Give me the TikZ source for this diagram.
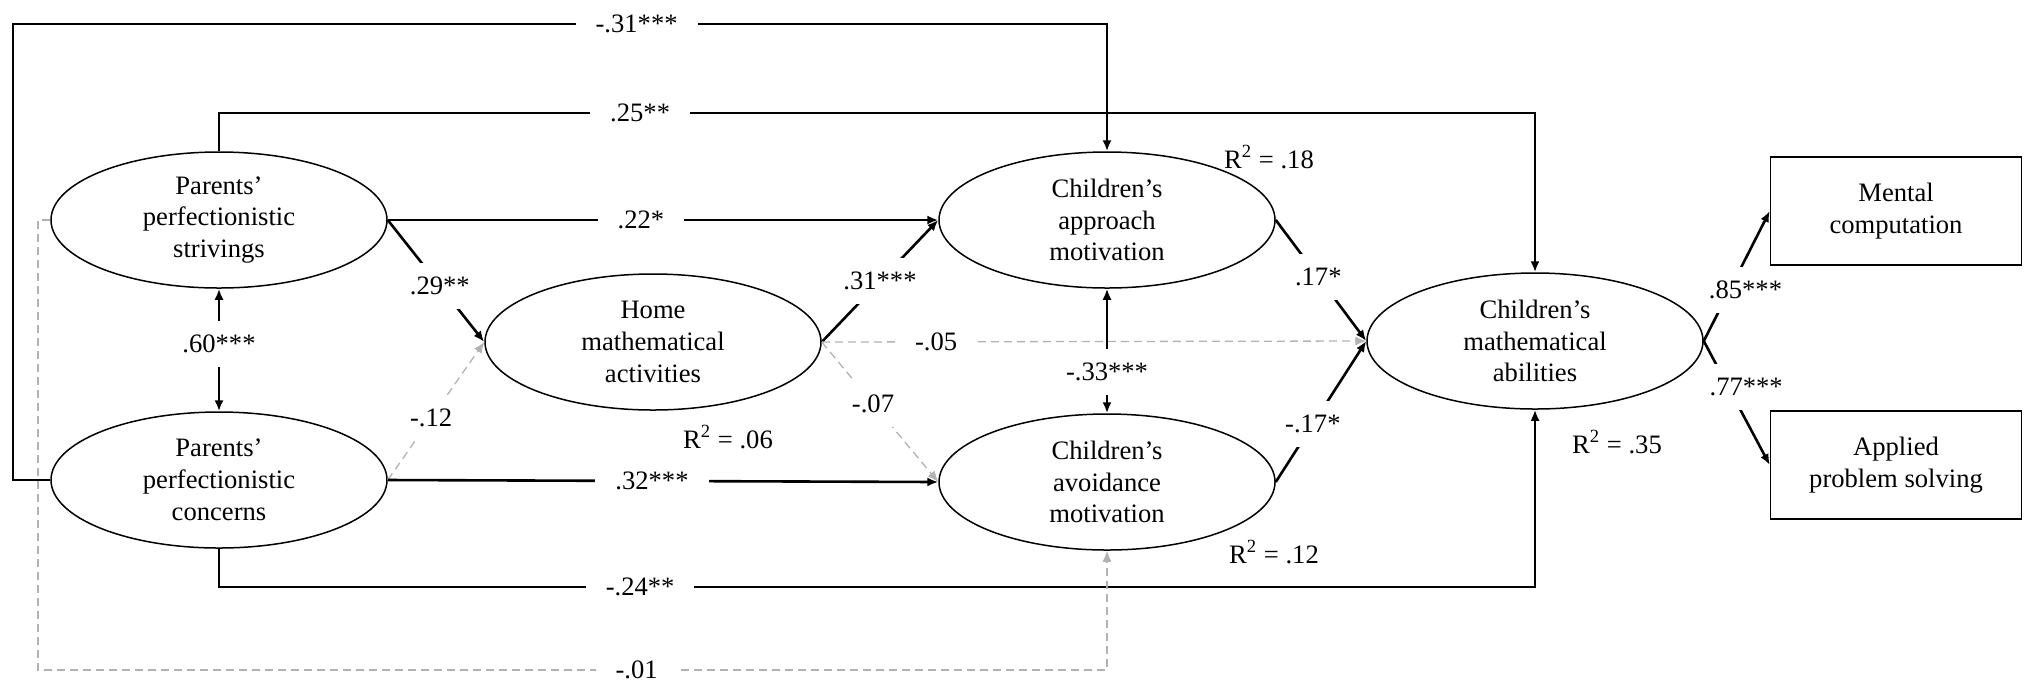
\documentclass[tikz,border=0pt]{standalone}
\usepackage{fontspec}
\setmainfont{Liberation Serif}
\usetikzlibrary{%
  arrows.meta,%
  shapes.geometric%
}
\tikzset{>={Latex[length=5.5pt,width=4.5pt]}}
\tikzset{latent/.style = {draw, ellipse, line width=0.75pt, minimum width=168pt,
	    minimum height=68pt, inner sep=0pt, align=center},%
		observed/.style={draw, rectangle, line width=0.75pt, minimum width=125.5pt,
        minimum height=54pt, align=center},%
        sig/.style={->, line width=1.3pt},%
        nonsig/.style={->, line width=0.65pt, draw=gray!60,
        dash pattern=on 4pt off 2.5pt},%
        coef/.style={fill=white, text=black, inner xsep=10pt, inner ysep=7pt}}

\begin{document}
\begin{tikzpicture}[x=0.5pt, y=-0.5pt,
    every node/.style={font=\fontsize{13.3}{15.9}\selectfont}]
        \useasboundingbox (0,0) rectangle (2027,682);
        % variables
        \node[latent] (strive) at (219,220) {Parents'\\perfectionistic\\strivings};
        \node[latent] (concern) at (219,480) {Parents'\\perfectionistic\\concerns};
        \node[latent] (home) at (653,342) {Home\\mathematical\\activities};
        \node[latent] (approach) at (1107,220) {Children's\\approach\\motivation};
        \node[latent] (avoid) at (1107,482) {Children's\\avoidance\\motivation};
        \node[latent] (ma) at (1535,341) {Children's\\mathematical\\abilities};
        \node[observed] (mental) at (1896,211) {Mental\\computation};
        \node[observed] (applied) at (1896,465) {Applied\\problem solving};
        % explained variance
        \node (r2home) at (728,437) {R\textsuperscript{2} = .06};
        \node (r2app) at (1269,157) {R\textsuperscript{2} = .18};
        \node (r2avo) at (1274,552) {R\textsuperscript{2} = .12};
        \node (r2ma) at (1617,442) {R\textsuperscript{2} = .35};
        % bends of the long paths
        \coordinate (bendA) at (13,24);
        \coordinate (bendB) at (219,113);
        \coordinate (bendC) at (219,587);
        \coordinate (bendD) at (38,670);
        % paths
        \draw[sig] (concern.west) -| (bendA) -- node[coef,pos=0.57] {-.31***}
        (bendA -| approach.north) -- (approach.north);
        \draw[sig] (strive.north) -- (bendB) -- node[coef,pos=0.32] {.25**}
        (bendB -| ma.north) -- (ma.north);
        \draw[sig] (concern.south) -- (bendC) -- node[coef,pos=0.32] {-.24**}
        (bendC -| ma.south) -- (ma.south);
        \draw[nonsig] (strive.west) -| (bendD) -- node[coef,pos=0.56] {-.01}
        (bendD -| avoid.south) -- (avoid.south);
        \draw[sig,<->] (strive.south) -- node[coef,pos=0.45] {.60***} (concern.north);
        \draw[sig,<->] (approach.south) -- node[coef,pos=0.67] {-.33***} (avoid.north);
        \draw[sig] (strive.east) -- node[coef,pos=0.46] {.22*} (approach.west);
        \draw[sig] (strive.east) -- node[coef,pos=0.54] {.29**} (home.west);
        \draw[nonsig] (concern.east) -- node[coef,pos=0.45] {-.12} (home.west);
        \draw[sig] (concern.east) -- node[coef,pos=0.48] {.32***} (avoid.west);
        \draw[sig] (home.east) -- node[coef] {.31***} (approach.west);
        \draw[nonsig] (home.east) -- node[coef,pos=0.44] {-.07} (avoid.west);
        \draw[nonsig] (home.east) -- node[coef,pos=0.21] {-.05} (ma.west);
        \draw[sig] (approach.east) -- node[coef,pos=0.47] {.17*} (ma.west);
        \draw[sig] (avoid.east) -- node[coef,pos=0.41] {-.17*} (ma.west);
        \draw[sig] (ma.east) -- node[coef,pos=0.39,xshift=8pt,inner xsep=3pt]
        {.85***} (mental.west);
        \draw[sig] (ma.east) -- node[coef,pos=0.37,xshift=9pt,inner xsep=3pt]
        {.77***} (applied.west);
\end{tikzpicture}
\end{document}
